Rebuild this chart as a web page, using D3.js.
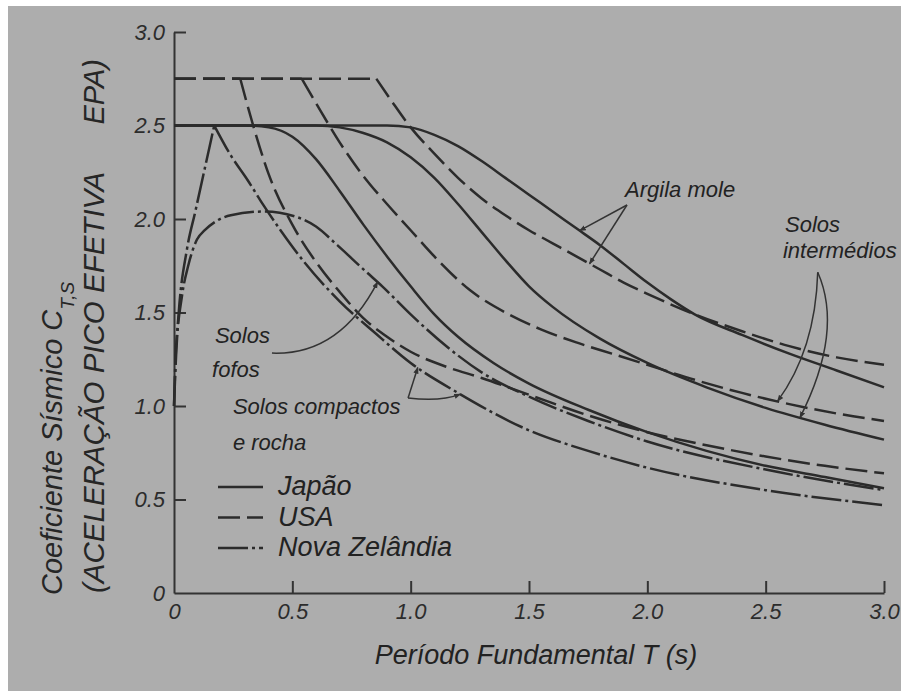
<!DOCTYPE html>
<html lang="pt">
<head>
<meta charset="utf-8">
<script src="https://cdn.jsdelivr.net/npm/d3@7"></script>
<style>
    body { margin: 0; background: #fff; }
    svg { display: block; font-family: 'Liberation Sans', Arial, sans-serif; font-style: italic; }
    .axis path, .axis line { stroke: #333; stroke-width: 2; }
    .axis text { font-size: 22px; fill: #2c2c2c; font-family: 'Liberation Sans', Arial, sans-serif; }
    .curve { fill: none; stroke: #2b2b2b; stroke-width: 2.5; }
    .leader { fill: none; stroke: #333; stroke-width: 1.5; }
    .note { font-size: 22px; fill: #222; }
</style>
</head>
<body>
<svg id="chart" width="901" height="691"></svg>
<script>
// periods T (s) and coefficients C, one pair of arrays per curve
const tJapaoRocha = [0, 0.3, 0.4, 0.5, 0.6, 0.7, 0.8, 0.9, 1.0, 1.1, 1.2, 1.35, 1.5, 1.75, 2.0, 2.25, 2.5, 2.75, 3.0];
const cJapaoRocha = [2.5, 2.5, 2.49, 2.44, 2.32, 2.15, 1.97, 1.80, 1.64, 1.49, 1.37, 1.23, 1.12, 0.98, 0.86, 0.76, 0.68, 0.62, 0.56];

const tJapaoInter = [0, 0.6, 0.7, 0.8, 0.9, 1.0, 1.1, 1.2, 1.3, 1.4, 1.5, 1.6, 1.8, 2.0, 2.25, 2.5, 2.75, 3.0];
const cJapaoInter = [2.5, 2.5, 2.49, 2.46, 2.41, 2.33, 2.22, 2.08, 1.93, 1.78, 1.64, 1.53, 1.36, 1.23, 1.10, 0.99, 0.90, 0.82];

const tJapaoArgila = [0, 0.9, 1.0, 1.1, 1.2, 1.3, 1.4, 1.5, 1.6, 1.7, 1.8, 1.9, 2.0, 2.1, 2.2, 2.4, 2.6, 2.8, 3.0];
const cJapaoArgila = [2.5, 2.5, 2.49, 2.45, 2.39, 2.31, 2.22, 2.13, 2.04, 1.95, 1.86, 1.76, 1.66, 1.57, 1.49, 1.38, 1.28, 1.19, 1.10];

const tUsaRocha = [0, 0.28, 0.33, 0.4, 0.5, 0.6, 0.7, 0.8, 0.9, 1.0, 1.15, 1.3, 1.5, 1.75, 2.0, 2.25, 2.5, 2.75, 3.0];
const cUsaRocha = [2.75, 2.75, 2.52, 2.24, 1.97, 1.77, 1.61, 1.47, 1.37, 1.29, 1.21, 1.15, 1.06, 0.95, 0.86, 0.79, 0.73, 0.68, 0.64];

const tUsaInter = [0, 0.54, 0.6, 0.7, 0.8, 0.9, 1.0, 1.1, 1.25, 1.4, 1.55, 1.7, 1.85, 2.0, 2.2, 2.4, 2.6, 2.8, 3.0];
const cUsaInter = [2.75, 2.75, 2.62, 2.41, 2.23, 2.08, 1.94, 1.80, 1.62, 1.50, 1.41, 1.34, 1.28, 1.22, 1.14, 1.07, 1.01, 0.96, 0.92];

const tUsaArgila = [0, 0.855, 0.92, 1.0, 1.1, 1.2, 1.3, 1.4, 1.5, 1.6, 1.7, 1.8, 1.9, 2.0, 2.2, 2.4, 2.6, 2.8, 3.0];
const cUsaArgila = [2.75, 2.75, 2.63, 2.49, 2.35, 2.22, 2.11, 2.02, 1.94, 1.87, 1.80, 1.73, 1.66, 1.60, 1.49, 1.40, 1.32, 1.26, 1.22];

const tNzRocha = [0, 0.005, 0.02, 0.055, 0.09, 0.13, 0.17, 0.24, 0.31, 0.38, 0.45, 0.55, 0.7, 0.85, 1.0, 1.2, 1.5, 1.75, 2.0, 2.5, 3.0];
const cNzRocha = [1.0, 1.2, 1.5, 1.84, 2.04, 2.27, 2.5, 2.34, 2.21, 2.07, 1.94, 1.77, 1.56, 1.39, 1.23, 1.07, 0.87, 0.76, 0.67, 0.55, 0.47];

const tNzFlex = [0, 0.01, 0.034, 0.06, 0.097, 0.13, 0.18, 0.24, 0.38, 0.52, 0.6, 0.69, 0.81, 0.88, 1.0, 1.16, 1.3, 1.5, 1.75, 2.0, 2.5, 3.0];
const cNzFlex = [1.0, 1.3, 1.59, 1.75, 1.89, 1.94, 1.99, 2.02, 2.04, 2.01, 1.96, 1.86, 1.72, 1.64, 1.49, 1.31, 1.18, 1.05, 0.92, 0.81, 0.66, 0.55];

const countries = ['Japão', 'USA', 'Nova Zelândia'];
const tickValues = [0, 0.5, 1.0, 1.5, 2.0, 2.5, 3.0];

const dashes = { 'Japão': null, 'USA': '22,7', 'Nova Zelândia': '30,4,3,4' };

const series = [
    { country: 'Japão', t: tJapaoRocha, c: cJapaoRocha, corner: false },
    { country: 'Japão', t: tJapaoInter, c: cJapaoInter, corner: false },
    { country: 'Japão', t: tJapaoArgila, c: cJapaoArgila, corner: false },
    { country: 'USA', t: tUsaRocha, c: cUsaRocha, corner: true },
    { country: 'USA', t: tUsaInter, c: cUsaInter, corner: true },
    { country: 'USA', t: tUsaArgila, c: cUsaArgila, corner: true },
    { country: 'Nova Zelândia', t: tNzRocha, c: cNzRocha, corner: true },
    { country: 'Nova Zelândia', t: tNzFlex, c: cNzFlex, corner: false }
];

const svg = d3.select('#chart');

const x = d3.scaleLinear().domain([0, 3]).range([174, 884]);
const y = d3.scaleLinear().domain([0, 3]).range([593, 32]);

const fmt = d => d === 0 ? '0' : d.toFixed(1);

// value of a curve at period T (linear between read points), used to land the leaders
const valueAt = (s, T) => {
    const i = Math.max(1, d3.bisectLeft(s.t, T));
    const f = (T - s.t[i - 1]) / (s.t[i] - s.t[i - 1]);
    return s.c[i - 1] + f * (s.c[i] - s.c[i - 1]);
};

const line = d3.line()
    .x(d => x(d[0]))
    .y(d => y(d[1]))
    .curve(d3.curveMonotoneX);

const curvePath = s => {
    const pts = s.t.map((t, i) => [t, s.c[i]]);
    if (!s.corner) return line(pts);
    const k = s.c.lastIndexOf(d3.max(s.c));
    return line(pts.slice(0, k + 1)) + line(pts.slice(k));
};

// paper
svg.append('rect')
    .attr('x', 8)
    .attr('y', 6)
    .attr('width', 893)
    .attr('height', 685)
    .attr('fill', '#adadad');

svg.append('defs')
    .append('marker')
    .attr('id', 'tip')
    .attr('viewBox', '0 0 8 8')
    .attr('refX', 7)
    .attr('refY', 4)
    .attr('markerWidth', 7)
    .attr('markerHeight', 7)
    .attr('markerUnits', 'userSpaceOnUse')
    .attr('orient', 'auto')
    .append('path')
    .attr('d', 'M0,1 L8,4 L0,7 z')
    .attr('fill', '#333');

// axes
svg.append('g')
    .attr('class', 'axis')
    .attr('transform', `translate(0,${y(0)})`)
    .call(d3.axisBottom(x)
        .tickValues(tickValues)
        .tickSizeInner(-12)
        .tickSizeOuter(0)
        .tickPadding(10)
        .tickFormat(fmt))
    .call(g => g.selectAll('.tick').filter(d => d === 0).select('line').remove());

svg.append('g')
    .attr('class', 'axis')
    .attr('transform', `translate(${x(0)},0)`)
    .call(d3.axisLeft(y)
        .tickValues(tickValues)
        .tickSizeInner(-12)
        .tickSizeOuter(0)
        .tickPadding(9)
        .tickFormat(fmt))
    .call(g => g.selectAll('.tick').filter(d => d === 0).select('line').remove());

// curves
svg.append('g')
    .selectAll('path.curve')
    .data(series)
    .enter()
    .append('path')
    .attr('class', 'curve')
    .attr('d', curvePath)
    .attr('stroke-dasharray', d => dashes[d.country]);

// axis titles
svg.append('text')
    .attr('x', 536)
    .attr('y', 664)
    .attr('text-anchor', 'middle')
    .attr('font-size', 27)
    .attr('fill', '#222')
    .text('Período Fundamental T (s)');

const yTitle = svg.append('text')
    .attr('transform', 'translate(62,595) rotate(-90)')
    .attr('font-size', 29)
    .attr('fill', '#262626');
yTitle.append('tspan').text('Coeficiente Sísmico C');
yTitle.append('tspan')
    .attr('font-size', 19)
    .attr('dy', 12)
    .text('T,S');

svg.append('text')
    .attr('transform', 'translate(104,593) rotate(-90)')
    .attr('font-size', 29.5)
    .attr('fill', '#262626')
    .text('(ACELERAÇÃO PICO EFETIVA');

svg.append('text')
    .attr('transform', 'translate(104,59) rotate(-90)')
    .attr('text-anchor', 'end')
    .attr('font-size', 29)
    .attr('fill', '#262626')
    .text('EPA)');

// legend
const legend = svg.append('g')
    .selectAll('g')
    .data(countries)
    .enter()
    .append('g')
    .attr('transform', (d, i) => `translate(218,${487 + i * 30.5})`);

legend.append('line')
    .attr('class', 'curve')
    .attr('x2', 45)
    .attr('stroke-dasharray', d => dashes[d]);

legend.append('text')
    .attr('x', 60)
    .attr('y', 8)
    .attr('font-size', 27)
    .attr('fill', '#222')
    .text(d => d);

// soil notes
const japaoArgila = series[2], japaoInter = series[1];
const usaArgila = series[5], usaInter = series[4];
const nzRocha = series[6], nzFlex = series[7];

const notes = [
    { text: 'Argila mole', t: 1.906, c: 2.118 },
    { text: 'Solos', t: 2.582, c: 1.93 },
    { text: 'intermédios', t: 2.573, c: 1.79 },
    { text: 'Solos', t: 0.173, c: 1.337 },
    { text: 'fofos', t: 0.161, c: 1.155 },
    { text: 'Solos compactos', t: 0.249, c: 0.957 },
    { text: 'e rocha', t: 0.249, c: 0.765 }
];

svg.append('g')
    .selectAll('text')
    .data(notes)
    .enter()
    .append('text')
    .attr('class', 'note')
    .attr('x', d => x(d.t))
    .attr('y', d => y(d.c))
    .text(d => d.text);

const leader = (from, ctrl, s, T) => {
    const p = d3.path();
    p.moveTo(x(from[0]), y(from[1]));
    if (ctrl) p.quadraticCurveTo(x(ctrl[0]), y(ctrl[1]), x(T), y(valueAt(s, T)));
    else p.lineTo(x(T), y(valueAt(s, T)));
    return p.toString();
};

const leaders = [
    leader([1.914, 2.075], null, japaoArgila, 1.714),
    leader([1.914, 2.075], null, usaArgila, 1.756),
    leader([2.72, 1.715], [2.71, 1.30], usaInter, 2.55),
    leader([2.72, 1.715], [2.83, 1.40], japaoInter, 2.645),
    leader([0.414, 1.283], [0.70, 1.27], nzFlex, 0.86),
    leader([0.989, 1.043], null, nzRocha, 1.03),
    leader([0.989, 1.043], [1.124, 1.021], nzRocha, 1.21)
];

svg.append('g')
    .selectAll('path')
    .data(leaders)
    .enter()
    .append('path')
    .attr('class', 'leader')
    .attr('d', d => d)
    .attr('marker-end', 'url(#tip)');
</script>
</body>
</html>
